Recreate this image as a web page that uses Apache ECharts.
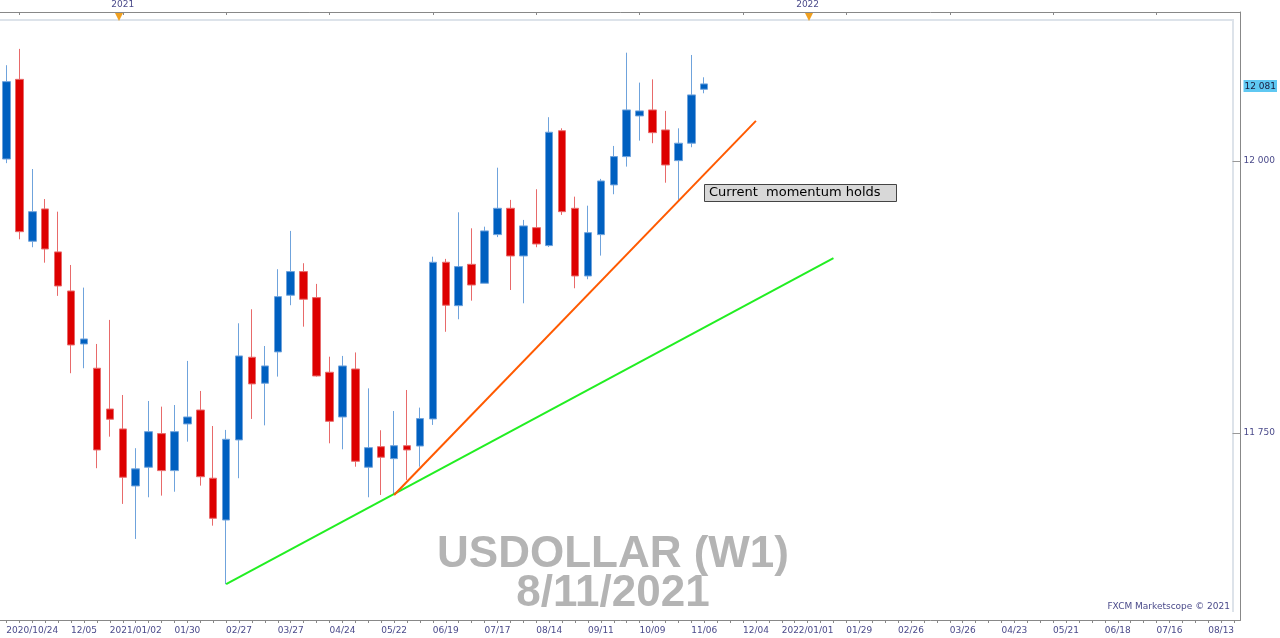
<!DOCTYPE html>
<html><head><meta charset="utf-8">
<script src="https://cdn.jsdelivr.net/npm/echarts@6/dist/echarts.min.js"></script>
<style>html,body{margin:0;padding:0;background:#fff}#c{width:1280px;height:638px}</style>
</head><body><div id="c"></div>
<script>
// weekly candles [open, close, low, high], index 0 = week of 2020/10/24
const opens  = [12001.8,12075,11926.2,11955.9,11916.4,11880.5,11831.8,11809.5,11772,11753.7,11701.3,11718.5,11749.4,11715.4,11758.3,11771.1,11708.4,11670,11743.6,11819.6,11795.7,11824.5,11876.6,11898.3,11874.4,11805.8,11764.7,11808.8,11718.5,11737.4,11726.4,11738.3,11738,11762.9,11906.9,11867,11905,11887.6,11932.3,11956.5,11912.7,11938.7,11922.2,12027.8,11956.5,11894.3,11932.3,11978,12004,12041.4,12046.9,12028.5,12000.3,12016.3,12065.9];
const closes = [12072.9,11935,11953.4,11919.1,11885.1,11830.9,11836.4,11734.4,11762.6,11709.3,11717,11751.2,11715.4,11751.2,11764.7,11709.8,11671.6,11744.2,11820.8,11795.1,11811.6,11875.3,11898.3,11872.9,11802.4,11760.7,11811.6,11724,11736.5,11727.7,11738.3,11734.4,11763.2,11906.9,11867.4,11902.9,11886,11935.7,11956.5,11912.7,11940.3,11923.7,12026.4,11953.4,11894.3,11934.1,11981.6,12004,12046.9,12046,12026,11996.3,12016.3,12060.7,12070.8];
const lows   = [11998,11928,11920.7,11906.5,11876,11804.9,11809.5,11717.6,11746.6,11684.8,11652.6,11690.9,11692.4,11696,11742,11701.6,11664.8,11611,11708.4,11762.9,11757,11801.8,11867.4,11847.7,11801.8,11740.5,11735,11719,11690.9,11693,11693,11706.8,11719,11757.4,11843,11854.5,11871.6,11887.6,11930,11881.4,11869.2,11920.7,11921,11950.4,11883,11891.3,11913,11969.4,11994.8,12018.7,12016.3,11980,11964.2,12012.6,12062.2];
const highs  = [12088,12103,11992.6,11965,11953.4,11904.4,11883.6,11831.8,11853.9,11784.9,11736,11779.4,11774.2,11775.7,11816.2,11788.6,11756.4,11752.8,11850.8,11863.7,11829.9,11900.5,11935.7,11906,11887,11820.1,11820.8,11824,11791,11752.5,11770.2,11789.5,11773.3,11912,11910,11952.8,11938.1,11939.6,11993.8,11964.2,11945.8,11974,12040.2,12030,11967.2,11958.9,11983.5,12013.8,12099.5,12072,12075,12046,12030,12097.4,12076.9];
const totalWeeks = 96;
const dateLabels = {2:'2020/10/24',6:'12/05',10:'2021/01/02',14:'01/30',18:'02/27',22:'03/27',26:'04/24',30:'05/22',34:'06/19',38:'07/17',42:'08/14',46:'09/11',50:'10/09',54:'11/06',58:'12/04',62:'2022/01/01',66:'01/29',70:'02/26',74:'03/26',78:'04/23',82:'05/21',86:'06/18',90:'07/16',94:'08/13'};
const yearLabels = {9:'2021',62:'2022'};
const priceTicks = [11750,12000];
const priceTickLabels = ['11 750','12 000'];
const lastPrice = 12069, lastPriceLabel = '12 081';
const greenLine = [[17,11611],[64,11910.8]];
const orangeLine = [[30,11693],[58,12036.8]];
const titleText = 'USDOLLAR (W1)', dateText = '8/11/2021';
const noteText = 'Current  momentum holds';

const cats = Array.from({length: totalWeeks}, (_, i) => String(i));
const candles = opens.map((o, i) => [o, closes[i], lows[i], highs[i]]);
const yMin = 11578.1, yMax = 12136.9;
const chart = echarts.init(document.getElementById('c'));
chart.setOption({
  animation: false,
  textStyle: {fontFamily: 'DejaVu Sans'},
  grid: {left: -3.5, top: 12, width: totalWeeks * 13, height: 608, containLabel: false},
  xAxis: [{
    type: 'category', data: cats, boundaryGap: true, position: 'bottom',
    axisLine: {lineStyle: {color: '#888'}},
    axisTick: {show: true, interval: 0, alignWithLabel: true, length: 3, lineStyle: {color: '#888'}},
    axisLabel: {interval: 0, color: '#4a4a8a', fontSize: 9, margin: 6,
      formatter: (v, i) => dateLabels[i] || ''},
    splitLine: {show: false}
  }, {
    type: 'category', data: cats, boundaryGap: true, position: 'top',
    axisLine: {lineStyle: {color: '#888'}},
    axisTick: {show: true, alignWithLabel: true, length: 3, inside: true,
      interval: (i) => i % 8 === 1, lineStyle: {color: '#888'}},
    axisLabel: {interval: 0, color: '#4a4a8a', fontSize: 9, margin: 3,
      formatter: (v, i) => yearLabels[i] || ''},
  }],
  yAxis: {
    type: 'value', position: 'right', min: yMin, max: yMax, scale: true,
    axisLine: {show: true, lineStyle: {color: '#888'}},
    axisTick: {show: true, inside: true, length: 8, customValues: priceTicks, lineStyle: {color: '#999'}},
    splitLine: {show: false},
    axisLabel: {customValues: priceTicks.concat([lastPrice]), inside: false, margin: 3, fontSize: 9, color: '#4a4a8a',
      formatter: (v) => {
        if (v === lastPrice) return '{cur|' + lastPriceLabel + '}';
        const k = priceTicks.indexOf(v); return k >= 0 ? priceTickLabels[k] : '';
      },
      rich: {cur: {backgroundColor: '#5fc8f2', color: '#1a1a3a', fontSize: 9, padding: [2, 1, 1, 1]}}
    }
  },
  series: [{
    type: 'candlestick', data: candles, barWidth: 8,
    itemStyle: {color: '#0060c0', color0: '#dd0000', borderColor: '#6fa3dc', borderColor0: '#e86a6a', borderWidth: 1}
  }, {
    type: 'line', data: greenLine, symbol: 'none', lineStyle: {color: '#22ee22', width: 2}, z: 5
  }, {
    type: 'line', data: orangeLine, symbol: 'none', lineStyle: {color: '#ff5a00', width: 2}, z: 5
  }],
  graphic: [
    {type: 'polyline', shape: {points: [[0,20],[1233,20],[1233,612]]}, style: {fill: 'none', stroke: '#dde3ea', lineWidth: 2}, z: -1, silent: true},
    {type: 'polygon', shape: {points: [[115,13],[123,13],[119,21]]}, style: {fill: '#f0a020'}},
    {type: 'polygon', shape: {points: [[805,13],[813,13],[809,21]]}, style: {fill: '#f0a020'}},
    {type: 'text', x: 613, y: 555, style: {text: titleText, fill: '#b4b4b4', font: 'bold 44px "Liberation Sans"', align: 'center', verticalAlign: 'middle'}},
    {type: 'text', x: 613, y: 594, style: {text: dateText, fill: '#b4b4b4', font: 'bold 44px "Liberation Sans"', align: 'center', verticalAlign: 'middle'}},
    {type: 'text', x: 1230, y: 607, style: {text: 'FXCM Marketscope © 2021', fill: '#4a4a8a', font: '9px "DejaVu Sans"', align: 'right', verticalAlign: 'middle'}},
    {type: 'rect', shape: {x: 704.5, y: 184.5, width: 192, height: 17}, style: {fill: '#d8d8d8', stroke: '#444', lineWidth: 1}, z: 10},
    {type: 'text', x: 709, y: 193, style: {text: noteText, fill: '#000', font: '13px "DejaVu Sans"', verticalAlign: 'middle'}, z: 11}
  ]
});
</script></body></html>
